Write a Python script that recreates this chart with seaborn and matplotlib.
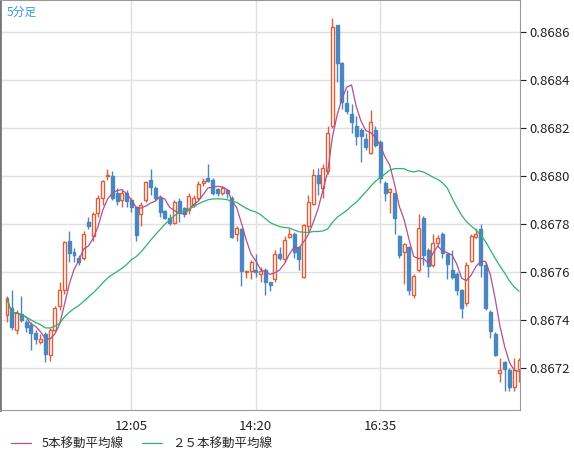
import numpy as np
import pandas as pd
import matplotlib
matplotlib.use("Agg")
import matplotlib.pyplot as plt
import seaborn as sns
from matplotlib.lines import Line2D

# === DATA (pips above 0.8670, 1 pip = 0.0001) ===
opens = [4.2, 4.5, 3.6, 4.25, 3.9, 3.8, 3.45, 3.1, 3.4, 2.55, 3.6, 4.6, 5.25, 7.3, 6.85, 6.6, 6.6, 8.1, 7.5, 8.45,
         9.1, 9.98, 10.0, 9.3, 9.0, 9.3, 9.0, 8.7, 8.4, 9.0, 9.85, 9.5, 9.1, 8.55, 8.25, 8.05, 8.95, 8.65, 8.6, 8.8,
         9.1, 9.7, 9.9, 9.85, 9.45, 9.3, 9.4, 9.1, 7.6, 7.8, 6.0, 6.05, 6.1, 5.9, 6.1, 5.6, 5.7, 6.75, 6.55, 7.45,
         7.6, 7.05, 5.8, 7.9, 8.85, 10.05, 9.5, 10.2, 12.1, 16.3, 14.7, 13.05, 12.6, 12.1, 11.9, 11.55, 10.95, 11.9, 11.4, 9.7,
         9.35, 9.3, 7.5, 6.85, 7.05, 5.05, 6.1, 8.25, 6.9, 6.3, 7.2, 7.6, 6.75, 6.1, 5.9, 5.25, 4.7, 6.45, 7.45, 7.8,
         6.3, 4.35, 3.4, 1.8, 2.25, 1.9, 1.2, 1.95]
highs = [5.0, 5.25, 4.4, 5.0, 4.0, 3.9, 3.6, 3.4, 3.5, 3.65, 4.6, 5.6, 7.3, 7.7, 7.0, 6.7, 7.7, 8.3, 8.5, 9.2,
         9.85, 10.3, 10.2, 9.5, 9.4, 9.4, 9.1, 8.75, 8.9, 9.8, 10.3, 9.6, 9.2, 8.6, 8.4, 9.0, 9.1, 8.7, 9.3, 9.2,
         9.8, 9.9, 10.5, 9.9, 9.5, 9.6, 9.45, 9.15, 7.9, 7.85, 6.1, 6.5, 6.75, 6.2, 6.15, 5.6, 6.9, 7.05, 7.5, 7.85,
         7.65, 7.1, 8.0, 9.2, 10.3, 10.35, 10.5, 12.1, 16.6, 16.3, 14.75, 13.6, 13.0, 12.5, 12.0, 11.8, 12.75, 12.1, 11.5, 9.8,
         9.5, 9.3, 7.55, 7.2, 7.1, 5.9, 8.4, 8.35, 7.0, 7.6, 7.55, 7.65, 6.8, 6.9, 6.0, 5.3, 6.4, 7.6, 7.85, 8.0,
         6.4, 4.4, 3.5, 2.4, 2.3, 2.0, 2.4, 2.4]
lows = [3.9, 3.6, 3.4, 3.9, 3.5, 2.75, 3.0, 3.0, 2.25, 2.3, 3.5, 4.4, 5.1, 6.4, 6.4, 6.3, 6.5, 7.8, 7.3, 8.3,
        8.8, 9.85, 9.0, 8.8, 8.7, 8.7, 8.5, 7.3, 7.9, 8.9, 9.2, 9.0, 8.3, 8.2, 7.95, 8.0, 8.1, 8.3, 8.4, 8.7,
        9.0, 9.6, 9.75, 9.2, 9.15, 9.2, 9.1, 7.4, 7.3, 5.4, 5.75, 5.7, 5.8, 5.6, 5.05, 5.2, 5.6, 6.5, 6.4, 7.4,
        6.6, 6.1, 5.75, 7.7, 8.8, 9.2, 9.1, 10.1, 12.0, 13.9, 12.8, 12.6, 11.8, 11.3, 10.6, 11.1, 10.9, 11.2, 9.7, 8.95,
        8.45, 7.6, 6.6, 5.5, 5.05, 4.9, 6.0, 6.3, 5.8, 6.2, 7.1, 6.6, 5.7, 5.7, 5.05, 4.1, 4.6, 6.4, 7.4, 5.8,
        4.4, 3.25, 2.5, 1.4, 1.05, 1.05, 1.05, 1.4]
closes = [4.9, 3.7, 4.3, 4.0, 3.7, 3.45, 3.2, 3.2, 2.6, 3.6, 4.5, 5.25, 7.25, 6.8, 6.7, 6.4, 7.6, 7.9, 8.4, 9.1,
          9.8, 10.0, 9.1, 8.95, 9.3, 8.95, 8.7, 7.55, 8.8, 9.75, 9.55, 9.1, 8.5, 8.25, 8.05, 8.9, 8.5, 8.4, 9.15, 9.1,
          9.65, 9.8, 9.8, 9.3, 9.3, 9.5, 9.3, 7.45, 7.85, 6.05, 6.0, 6.4, 6.0, 6.05, 5.6, 5.45, 6.75, 6.6, 7.35, 7.6,
          6.85, 6.55, 7.95, 8.9, 10.05, 9.7, 10.35, 11.8, 16.2, 14.7, 13.1, 12.7, 12.25, 11.65, 11.65, 11.2, 12.25, 11.3, 9.9, 9.3,
          9.45, 8.25, 6.7, 7.15, 5.25, 5.85, 7.85, 6.7, 6.25, 7.2, 7.4, 6.8, 6.35, 5.8, 5.25, 4.5, 6.3, 7.5, 7.6, 6.3,
          4.5, 3.55, 2.55, 1.9, 1.95, 1.2, 1.9, 2.35]
tick_labels = ["12:05", "14:20", "16:35"]
tick_index = [26, 52, 78]

# === BUILD FRAME ===
df = pd.DataFrame({"open": opens, "high": highs, "low": lows, "close": closes})
df[["open", "high", "low", "close"]] = 0.867 + df[["open", "high", "low", "close"]] * 0.0001
df["idx"] = np.arange(len(df))
df["ma5"] = df["close"].rolling(5, min_periods=1).mean()
df["ma25"] = df["close"].rolling(25, min_periods=1).mean()

UP = "#d9603b"
DOWN = "#4a86c0"
MA5_C = "#b0508f"
MA25_C = "#2db36e"

sns.set_style("white")
plt.rcParams["font.family"] = ["Noto Sans CJK JP", "DejaVu Sans"]

fig = plt.figure(figsize=(5.74, 4.62), dpi=100)
ax = fig.add_axes([0, 52 / 462, 520 / 574, 410 / 462])

for _, r in df.iterrows():
    up = r["close"] >= r["open"]
    col = UP if up else DOWN
    lo_b, hi_b = min(r["open"], r["close"]), max(r["open"], r["close"])
    ax.vlines(r["idx"], r["low"], lo_b, color=col, lw=1, zorder=3)
    ax.vlines(r["idx"], hi_b, r["high"], color=col, lw=1, zorder=3)
    ax.bar(r["idx"], max(hi_b - lo_b, 0.000004), bottom=lo_b, width=0.62,
           color="white" if up else col, edgecolor=col, lw=1, zorder=4)

sns.lineplot(data=df, x="idx", y="ma5", color=MA5_C, lw=0.9, ax=ax, zorder=5)
sns.lineplot(data=df, x="idx", y="ma25", color=MA25_C, lw=0.9, ax=ax, zorder=5)

ax.set_xlim(-1.46, 107.2)
ax.set_ylim(0.867025, 0.868733)
ax.set_xticks(tick_index)
ax.set_xticklabels(tick_labels)
ax.set_yticks(np.arange(0.8672, 0.86861, 0.0002))
ax.set_yticklabels([f"{v:.4f}" for v in np.arange(0.8672, 0.86861, 0.0002)])
ax.yaxis.tick_right()
ax.tick_params(axis="both", labelsize=9.5, colors="#222222", length=4, direction="out")
ax.tick_params(axis="y", pad=3)
ax.set_xlabel("")
ax.set_ylabel("")
ax.grid(True, color="#e0e0e0", lw=1)
for s in ax.spines.values():
    s.set_color("#999999")
ax.spines["left"].set_color("#777777")
ax.spines["left"].set_linewidth(2)

ax.text(0.012, 0.985, "5分足", transform=ax.transAxes, color="#3a9ad9",
        fontsize=8.5, va="top", ha="left")

handles = [Line2D([], [], color=MA5_C, lw=0.9), Line2D([], [], color=MA25_C, lw=0.9)]
fig.legend(handles, ["5本移動平均線", "２５本移動平均線"], loc="lower left",
           bbox_to_anchor=(0.0, 0.0), ncol=2, frameon=False, fontsize=9,
           handlelength=1.6, columnspacing=1.5)

fig.savefig("out.png", dpi=100)
